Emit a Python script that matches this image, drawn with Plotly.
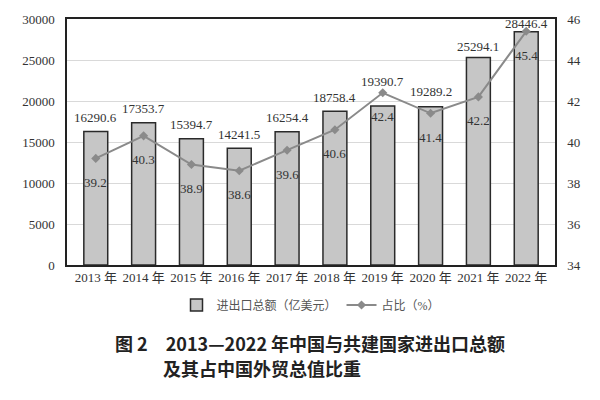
import plotly.graph_objects as go

years = ["2013 年", "2014 年", "2015 年", "2016 年", "2017 年",
         "2018 年", "2019 年", "2020 年", "2021 年", "2022 年"]
trade = [16290.6, 17353.7, 15394.7, 14241.5, 16254.4,
         18758.4, 19390.7, 19289.2, 25294.1, 28446.4]
share = [39.2, 40.3, 38.9, 38.6, 39.6, 40.6, 42.4, 41.4, 42.2, 45.4]

left_ticks = [0, 5000, 10000, 15000, 20000, 25000, 30000]
right_ticks = [34, 36, 38, 40, 42, 44, 46]

# label offsets (pixels above bar top), styling only
bar_label_shift = [14, 14, 14, 14, 14, 14, 25, 15, 11, 8]

serif = "Liberation Serif, Noto Sans CJK SC"
txt = "#333333"

fig = go.Figure()
fig.add_trace(go.Bar(
    x=years, y=trade, name="进出口总额（亿美元）",
    marker=dict(color="#c6c6c6", line=dict(color="#2a2a2a", width=1.5)),
    width=0.5,
))
fig.add_trace(go.Scatter(
    x=years, y=share, name="占比（%）", yaxis="y2",
    mode="lines+markers",
    line=dict(color="#8a8a8a", width=2),
    marker=dict(symbol="diamond", size=7, color="#8a8a8a"),
))

for x, v, s in zip(years, trade, bar_label_shift):
    fig.add_annotation(x=x, y=v, text=f"{v:.1f}", showarrow=False, yanchor="middle",
                       yshift=s, font=dict(family=serif, size=13, color=txt))

for x, v in zip(years, share):
    fig.add_annotation(x=x, y=v, yref="y2", text=f"{v:.1f}", showarrow=False,
                       yshift=-24, font=dict(family=serif, size=13, color=txt))

fig.add_annotation(xref="paper", yref="paper", x=(113 - 67) / 488, y=(265 - 343) / 246,
                   xanchor="left", yanchor="middle", showarrow=False,
                   text="<b>图 2　2013—2022 年中国与共建国家进出口总额</b>",
                   font=dict(family="Noto Sans CJK SC", size=18, color="#222222"))
fig.add_annotation(xref="paper", yref="paper", x=(161 - 67) / 488, y=(265 - 368) / 246,
                   xanchor="left", yanchor="middle", showarrow=False,
                   text="<b>及其占中国外贸总值比重</b>",
                   font=dict(family="Noto Sans CJK SC", size=18, color="#222222"))

fig.update_layout(
    width=600, height=400,
    margin=dict(l=67, r=45, t=19, b=135),
    paper_bgcolor="white", plot_bgcolor="white",
    showlegend=True,
    legend=dict(orientation="h", x=0.5, xanchor="center", y=(265 - 305) / 246,
                yanchor="middle", font=dict(family=serif, size=12, color="#555555"),
                itemwidth=30),
    bargap=0.5,
    xaxis=dict(showline=True, linecolor="#222222", linewidth=1.5, mirror=True,
               ticks="", tickfont=dict(family=serif, size=13, color=txt)),
    yaxis=dict(range=[0, 30000], tickvals=left_ticks,
               ticktext=[str(t) for t in left_ticks], showline=True,
               linecolor="#222222", linewidth=1.5, showgrid=True,
               gridcolor="#d9d9d9", gridwidth=1, zeroline=False, ticks="",
               ticklabelstandoff=8,
               tickfont=dict(family=serif, size=13, color=txt)),
    yaxis2=dict(range=[34, 46], tickvals=right_ticks, overlaying="y", side="right",
                showline=True, linecolor="#222222", linewidth=1.5, showgrid=False,
                zeroline=False, ticks="", ticklabelstandoff=8,
                tickfont=dict(family=serif, size=13, color=txt)),
)

fig.write_html("out.html")
